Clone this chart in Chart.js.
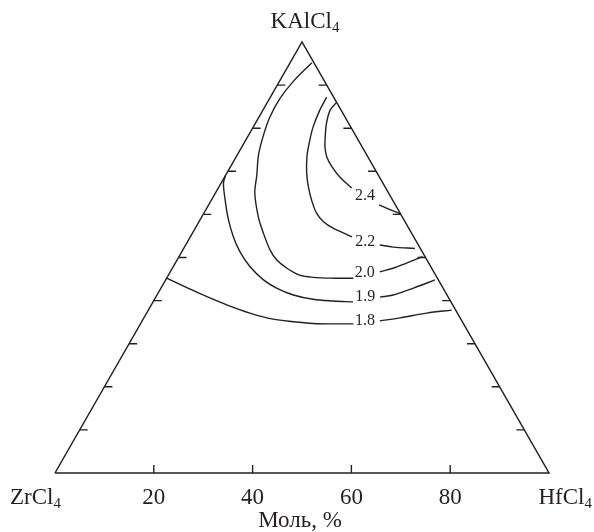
<!DOCTYPE html>
<html>
<head>
<meta charset="utf-8">
<script src="https://cdn.jsdelivr.net/npm/chart.js@4"></script>
<style>
  html, body { margin: 0; padding: 0; background: #fff; }
  canvas { display: block; }
</style>
</head>
<body>
<canvas id="ternary" width="594" height="532"></canvas>
<script>
// compositions are [HfCl4 %, KAlCl4 %], ZrCl4 is the rest
// null = gap where the isoline label sits
const iso24 = [[14.0,86.0],[13.6,84.2],[14.4,81.1],[15.7,78.0],[16.8,75.7],[18.3,73.4],[20.5,71.1],[23.3,68.7],[27.0,66.1], null, [34.5,62.2],[36.8,61.3],[39.9,60.1]];
const iso22 = [[11.4,87.2],[11.5,84.2],[12.1,80.3],[13.2,76.5],[14.3,73.4],[16.2,69.5],[18.1,66.4],[20.3,63.3],[22.8,60.3],[25.2,58.3],[27.9,56.8],[32.7,54.8], null, [39.3,52.9],[42.3,52.4],[46.8,52.1]];
const iso20 = [[4.4,95.2],[2.8,90.8],[2.1,86.9],[2.2,82.7],[3.0,78.4],[4.3,73.8],[6.3,69.1],[8.0,64.9],[11.4,59.5],[14.4,55.6],[17.7,51.7],[20.2,49.4],[23.2,47.5],[26.6,45.9],[29.6,45.4],[33.7,45.2],[37.8,45.2], null, [42.4,46.7],[44.7,47.5],[46.8,48.7],[49.3,50.2]];
const iso19 = [[0,69.0],[0.5,67.2],[2.8,63.3],[5.5,59.1],[8.7,54.8],[11.8,51.3],[15.5,47.9],[19.8,44.8],[23.4,42.9],[27.6,41.3],[32.1,40.3],[36.4,39.9],[40.5,39.7], null, [45.4,40.8],[47.8,41.3],[51.1,42.9],[54.5,44.8]];
const iso18 = [[0,45.2],[5.2,43.0],[10.3,40.9],[15.3,39.0],[20.9,37.1],[26.3,35.7],[30.7,35.1],[34.9,34.7],[39.0,34.6],[43.1,34.6], null, [48.1,35.3],[51.8,36.0],[56.7,37.1],[61.4,37.8]];

const isoCurves = [iso24, iso22, iso20, iso19, iso18];
const isoLabels = ['2.4', '2.2', '2.0', '1.9', '1.8'];
const isoLabelAt = [[30.6,64.3],[36.0,53.6],[39.5,46.4],[42.4,40.8],[45.1,35.3]];

const corners = [[0,0],[100,0],[0,100],[0,0]]; // ZrCl4, HfCl4, KAlCl4
const baseTicks = [20, 40, 60, 80];
const sideTicks = [10, 20, 30, 40, 50, 60, 70, 80, 90];
const cornerNames = ['ZrCl', 'HfCl', 'KAlCl'];
const axisTitle = 'Моль, %';

const ink = '#231f20';
const serif = '"Liberation Serif", "DejaVu Serif", serif';

// ternary -> plot coords (x across base, y = KAlCl4 share)
function toXY(p) {
  if (!p) return { x: null, y: null };
  return { x: p[0] + p[1] / 2, y: p[1] };
}

const datasets = [{
  data: corners.map(toXY),
  borderColor: ink,
  borderWidth: 1.5,
  tension: 0
}];
isoCurves.forEach(c => {
  datasets.push({
    data: c.map(toXY),
    borderColor: ink,
    borderWidth: 1.4,
    tension: 0.35
  });
});

// ticks, corner names, base numbers, isoline labels
const decor = {
  id: 'decor',
  afterDatasetsDraw(chart) {
    const ctx = chart.ctx, sx = chart.scales.x, sy = chart.scales.y;
    const px = p => sx.getPixelForValue(toXY(p).x);
    const py = p => sy.getPixelForValue(toXY(p).y);
    ctx.save();
    ctx.strokeStyle = ink;
    ctx.lineWidth = 1.4;
    ctx.beginPath();
    baseTicks.forEach(t => {
      const x = px([t, 0]), y = py([t, 0]);
      ctx.moveTo(x, y); ctx.lineTo(x, y - 8);
    });
    sideTicks.forEach(k => {
      let x = px([0, k]), y = py([0, k]);
      ctx.moveTo(x, y); ctx.lineTo(x + 8, y);
      x = px([100 - k, k]); y = py([100 - k, k]);
      ctx.moveTo(x, y); ctx.lineTo(x - 8, y);
    });
    ctx.stroke();

    ctx.fillStyle = ink;
    // isoline labels
    ctx.font = '16px ' + serif;
    ctx.textAlign = 'center';
    ctx.textBaseline = 'middle';
    isoLabels.forEach((t, i) => {
      ctx.fillText(t, px(isoLabelAt[i]), py(isoLabelAt[i]));
    });

    // base numbers
    ctx.font = '23px ' + serif;
    ctx.textBaseline = 'alphabetic';
    baseTicks.forEach(t => ctx.fillText(String(t), px([t, 0]), 504));
    ctx.fillText(axisTitle, px([50, 0]) - 2, 527);

    // corner names with subscript 4
    const chem = (name, x, y, align) => {
      ctx.font = '23px ' + serif;
      const w1 = ctx.measureText(name).width;
      ctx.font = '15px ' + serif;
      const w2 = ctx.measureText('4').width;
      let left = x;
      if (align === 'center') left = x - (w1 + w2) / 2;
      if (align === 'right') left = x - w1 - w2;
      ctx.textAlign = 'left';
      ctx.font = '23px ' + serif;
      ctx.fillText(name, left, y);
      ctx.font = '15px ' + serif;
      ctx.fillText('4', left + w1, y + 4);
    };
    chem(cornerNames[0], 10, 504, 'left');
    chem(cornerNames[1], 592, 504, 'right');
    chem(cornerNames[2], px([0, 100]) + 3, 28, 'center');
    ctx.restore();
  }
};

new Chart(document.getElementById('ternary'), {
  type: 'scatter',
  data: { datasets: datasets },
  options: {
    responsive: false,
    animation: false,
    devicePixelRatio: 1,
    layout: { padding: { left: 55, right: 45, top: 42, bottom: 59 } },
    datasets: { scatter: { showLine: true, pointRadius: 0, clip: false, spanGaps: false } },
    scales: {
      x: { type: 'linear', min: 0, max: 100, display: false },
      y: { type: 'linear', min: 0, max: 100, display: false }
    },
    plugins: { legend: { display: false }, tooltip: { enabled: false } }
  },
  plugins: [decor]
});
</script>
</body>
</html>
